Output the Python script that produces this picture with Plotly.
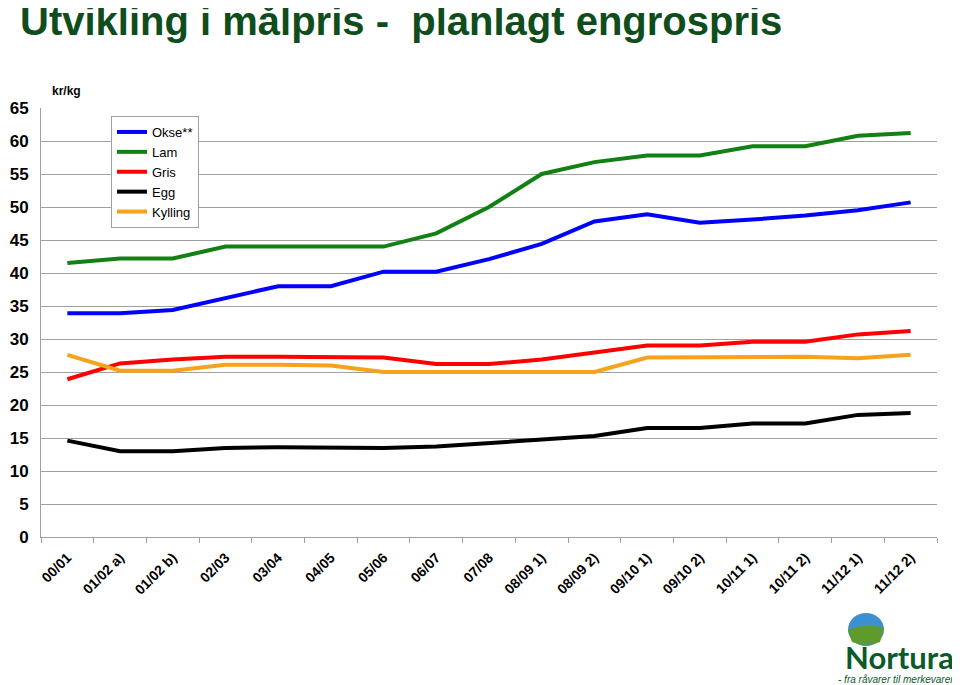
import plotly.graph_objects as go

categories = ["00/01", "01/02 a)", "01/02 b)", "02/03", "03/04", "04/05", "05/06", "06/07",
              "07/08", "08/09 1)", "08/09 2)", "09/10 1)", "09/10 2)", "10/11 1)", "10/11 2)",
              "11/12 1)", "11/12 2)"]

okse = [33.9, 33.9, 34.4, 36.2, 38.0, 38.0, 40.2, 40.2, 42.1, 44.4, 47.8, 48.9, 47.6, 48.1, 48.7, 49.5, 50.7]
lam = [41.5, 42.2, 42.2, 44.0, 44.0, 44.0, 44.0, 46.0, 50.0, 55.0, 56.8, 57.8, 57.8, 59.2, 59.2, 60.8, 61.2]
gris = [23.9, 26.3, 26.9, 27.3, 27.3, 27.2, 27.2, 26.2, 26.2, 26.9, 28.0, 29.0, 29.0, 29.6, 29.6, 30.7, 31.2]
egg = [14.6, 13.0, 13.0, 13.5, 13.6, 13.5, 13.5, 13.7, 14.2, 14.7, 15.3, 16.5, 16.5, 17.2, 17.2, 18.5, 18.8]
kylling = [27.6, 25.2, 25.2, 26.1, 26.1, 26.0, 25.0, 25.0, 25.0, 25.0, 25.0, 27.2, 27.2, 27.3, 27.3, 27.1, 27.6]

series_names = ["Okse**", "Lam", "Gris", "Egg", "Kylling"]
series_values = [okse, lam, gris, egg, kylling]
series_colors = ["#0000ff", "#138013", "#ff0000", "#000000", "#f7a21b"]

y_ticks = list(range(0, 70, 5))

# page offset from the default body margin
OX, OY = 8, 8
W, H = 960 - OX, 685 - OY
# plot area in screen pixels
L, R, T, B = 41, 937, 108, 537
PW, PH = R - L, B - T


def px(x):
    return (x - L) / PW


def py(y):
    return (B - y) / PH


fig = go.Figure()
for name, vals, col in zip(series_names, series_values, series_colors):
    fig.add_trace(go.Scatter(x=categories, y=vals, name=name, mode="lines",
                             line=dict(color=col, width=4)))

fig.update_layout(
    width=W, height=H,
    margin=dict(l=L - OX, r=960 - R, t=T - OY, b=685 - B, autoexpand=False),
    paper_bgcolor="white", plot_bgcolor="white",
    showlegend=True,
    legend=dict(x=px(111), y=py(116), xanchor="left", yanchor="top",
                bgcolor="white", bordercolor="#a0a0a0", borderwidth=1,
                font=dict(family="Liberation Sans, Arial, sans-serif", size=13, color="black"),
                tracegroupgap=0, itemwidth=30),
    title=dict(text="<b>Utvikling i målpris -  planlagt engrospris</b>",
               font=dict(family="Liberation Sans Narrow, Arial Narrow, Liberation Sans, sans-serif",
                         size=40, color="#0f4d1c"),
               xref="container", x=(20 - OX) / W, xanchor="left",
               yref="container", y=1 - (21 - OY) / H, yanchor="middle"),
)

fig.update_xaxes(type="category", categoryorder="array", categoryarray=categories,
                 range=[-0.5, len(categories) - 0.5], automargin=False,
                 showline=True, linecolor="#a0a0a0", linewidth=1,
                 ticks="outside", tickson="boundaries", ticklen=5, tickcolor="#a0a0a0",
                 tickangle=-45, showgrid=False, ticklabelstandoff=6,
                 tickfont=dict(family="Liberation Sans, Arial, sans-serif", size=14, color="black", weight="bold"))

fig.update_yaxes(range=[0, 65], tickvals=y_ticks, ticktext=[str(v) for v in y_ticks],
                 automargin=False,
                 showline=True, linecolor="#a0a0a0", linewidth=1,
                 showgrid=True, gridcolor="#a0a0a0", gridwidth=1,
                 ticks="", ticklabelstandoff=8, zeroline=False,
                 tickfont=dict(family="Liberation Sans, Arial, sans-serif", size=17, color="black", weight="bold"))

# axis unit label
fig.add_annotation(text="<b>kr/kg</b>", xref="paper", yref="paper", x=px(50), y=py(91),
                   xanchor="left", yanchor="middle", showarrow=False,
                   font=dict(family="Liberation Sans, Arial, sans-serif", size=12, color="black"))

# Nortura logo (approximation)
fig.add_shape(type="circle", xref="paper", yref="paper",
              x0=px(848), x1=px(884), y0=py(646), y1=py(613),
              fillcolor="#3d8fd0", line=dict(width=0))
fig.add_shape(type="path", xref="paper", yref="paper",
              path="M {:.4f},{:.4f} Q {:.4f},{:.4f} {:.4f},{:.4f} L {:.4f},{:.4f} Q {:.4f},{:.4f} {:.4f},{:.4f} Z".format(
                  px(848), py(630), px(866), py(622), px(884), py(628),
                  px(880), py(642), px(866), py(648), px(852), py(642)),
              fillcolor="#5f9b2a", line=dict(width=0))
fig.add_annotation(text="<b>Nortura</b>", xref="paper", yref="paper",
                   x=px(956), y=py(657), xanchor="right", yanchor="middle",
                   showarrow=False, height=26, valign="middle",
                   font=dict(family="Lato, Liberation Sans, sans-serif", size=31, color="#0a5a2a"))
fig.add_annotation(text="<i>- fra råvarer til merkevarer</i>", xref="paper", yref="paper",
                   x=px(956), y=py(679), xanchor="right", yanchor="middle",
                   showarrow=False,
                   font=dict(family="Liberation Sans Narrow, Liberation Sans, sans-serif", size=10, color="#0a5a2a"))

fig.write_html("out.html")
